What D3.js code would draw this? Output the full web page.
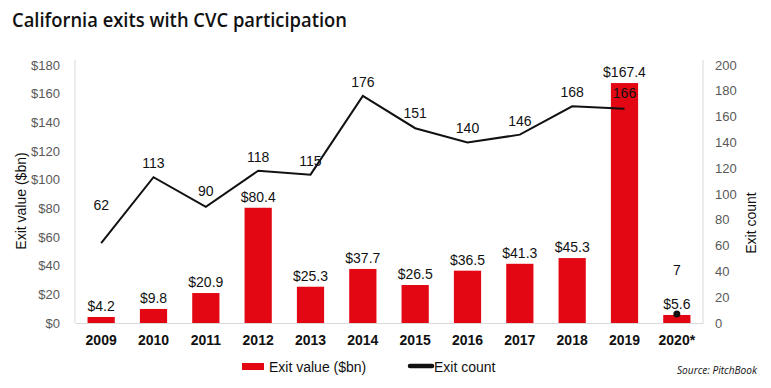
<!DOCTYPE html>
<html>
<head>
<meta charset="utf-8">
<script src="https://cdn.jsdelivr.net/npm/d3@7"></script>
<style>
  body { margin: 0; background: #fff; }
  text { font-family: "Liberation Sans", Arial, sans-serif; }
</style>
</head>
<body>
<div id="chart"></div>
<script>
const years = ["2009", "2010", "2011", "2012", "2013", "2014", "2015", "2016", "2017", "2018", "2019", "2020*"];
const exitValue = [4.2, 9.8, 20.9, 80.4, 25.3, 37.7, 26.5, 36.5, 41.3, 45.3, 167.4, 5.6];
const exitCount = [62, 113, 90, 118, 115, 176, 151, 140, 146, 168, 166, 7];
const valueTicks = [0, 20, 40, 60, 80, 100, 120, 140, 160, 180];
const countTicks = [0, 20, 40, 60, 80, 100, 120, 140, 160, 180, 200];

const width = 771, height = 388;
const margin = { top: 60, right: 68, bottom: 65, left: 75 };
const innerW = width - margin.left - margin.right;
const innerH = height - margin.top - margin.bottom;
const plotTop = 5; // ticks start a little below the axis lines' top

// extra lift for count labels that would clash with bars
const countLabelLift = [38, 14, 16, 14, 14, 14, 15, 14, 14, 14, 16, 44];

const svg = d3.select("#chart").append("svg")
  .attr("width", width)
  .attr("height", height);

svg.append("text")
  .attr("x", 12)
  .attr("y", 27)
  .attr("textLength", 335)
  .attr("lengthAdjust", "spacingAndGlyphs")
  .style("font-family", "'Open Sans', sans-serif")
  .style("font-size", "20px")
  .style("font-weight", 600)
  .attr("fill", "#111")
  .text("California exits with CVC participation");

const g = svg.append("g").attr("transform", `translate(${margin.left},${margin.top})`);

const x = d3.scaleBand().domain(years).range([0, innerW]).paddingInner(0.48).paddingOuter(0.24);
const yL = d3.scaleLinear().domain([0, 180]).range([innerH, plotTop]);
const yR = d3.scaleLinear().domain([0, 200]).range([innerH, plotTop]);

// axes
const leftAxis = g.append("g")
  .call(d3.axisLeft(yL).tickValues(valueTicks).tickFormat(d => "$" + d).tickSize(0).tickPadding(15));
leftAxis.select(".domain").remove();
leftAxis.selectAll("text").attr("fill", "#595959").style("font-size", "13px");

const rightAxis = g.append("g").attr("transform", `translate(${innerW},0)`)
  .call(d3.axisRight(yR).tickValues(countTicks).tickSize(0).tickPadding(12));
rightAxis.select(".domain").remove();
rightAxis.selectAll("text").attr("fill", "#595959").style("font-size", "13px");

g.append("line").attr("x1", 0).attr("x2", 0).attr("y1", 0).attr("y2", innerH).attr("stroke", "#d9d9d9");
g.append("line").attr("x1", innerW).attr("x2", innerW).attr("y1", 0).attr("y2", innerH).attr("stroke", "#d9d9d9");

const xAxis = g.append("g").attr("transform", `translate(0,${innerH})`)
  .call(d3.axisBottom(x).tickSize(0).tickPadding(12));
xAxis.select(".domain").attr("stroke", "#d9d9d9");
xAxis.selectAll("text").attr("fill", "#111").style("font-size", "14px").style("font-weight", "bold");

// axis titles
svg.append("text")
  .attr("transform", `translate(26,201) rotate(-90)`)
  .attr("text-anchor", "middle")
  .style("font-size", "14px")
  .attr("fill", "#111")
  .text("Exit value ($bn)");
svg.append("text")
  .attr("transform", `translate(756,223) rotate(-90)`)
  .attr("text-anchor", "middle")
  .style("font-size", "14px")
  .attr("fill", "#111")
  .text("Exit count");

// bars
g.selectAll("rect.bar").data(exitValue).enter().append("rect")
  .attr("class", "bar")
  .attr("x", (d, i) => x(years[i]))
  .attr("width", x.bandwidth())
  .attr("y", d => yL(d))
  .attr("height", d => innerH - yL(d))
  .attr("fill", "#e30613");

g.selectAll("text.blabel").data(exitValue).enter().append("text")
  .attr("class", "blabel")
  .attr("x", (d, i) => x(years[i]) + x.bandwidth() / 2)
  .attr("y", d => yL(d) - 6)
  .attr("text-anchor", "middle")
  .style("font-size", "14px")
  .attr("fill", "#111")
  .text(d => "$" + d);

// line (2009-2019), 2020 as a single marker
const cx = i => x(years[i]) + x.bandwidth() / 2;
const line = d3.line().x((d, i) => cx(i)).y(d => yR(d));
g.append("path")
  .datum(exitCount.slice(0, 11))
  .attr("d", line)
  .attr("fill", "none")
  .attr("stroke", "#111")
  .attr("stroke-width", 2);

g.append("circle")
  .attr("cx", cx(11))
  .attr("cy", yR(exitCount[11]))
  .attr("r", 3.5)
  .attr("fill", "#111");

g.selectAll("text.clabel").data(exitCount).enter().append("text")
  .attr("class", "clabel")
  .attr("x", (d, i) => cx(i))
  .attr("y", (d, i) => yR(d) - countLabelLift[i])
  .attr("dy", "0.35em")
  .attr("text-anchor", "middle")
  .style("font-size", "14px")
  .attr("fill", "#111")
  .text(d => d);

// legend
const lg = svg.append("g");
lg.append("rect").attr("x", 242).attr("y", 363).attr("width", 22).attr("height", 7).attr("fill", "#e30613");
lg.append("text").attr("x", 269).attr("y", 372).style("font-size", "14px").attr("fill", "#111").text("Exit value ($bn)");
lg.append("line").attr("x1", 410).attr("x2", 432).attr("y1", 366).attr("y2", 366)
  .attr("stroke", "#111").attr("stroke-width", 4.5).attr("stroke-linecap", "round");
lg.append("text").attr("x", 434).attr("y", 372).style("font-size", "14px").attr("fill", "#111").text("Exit count");

svg.append("text")
  .attr("x", 757)
  .attr("y", 374)
  .attr("text-anchor", "end")
  .attr("textLength", 80)
  .attr("lengthAdjust", "spacingAndGlyphs")
  .style("font-family", "'Open Sans', sans-serif")
  .style("font-style", "italic")
  .style("font-size", "11px")
  .attr("fill", "#111")
  .text("Source: PitchBook");
</script>
</body>
</html>
